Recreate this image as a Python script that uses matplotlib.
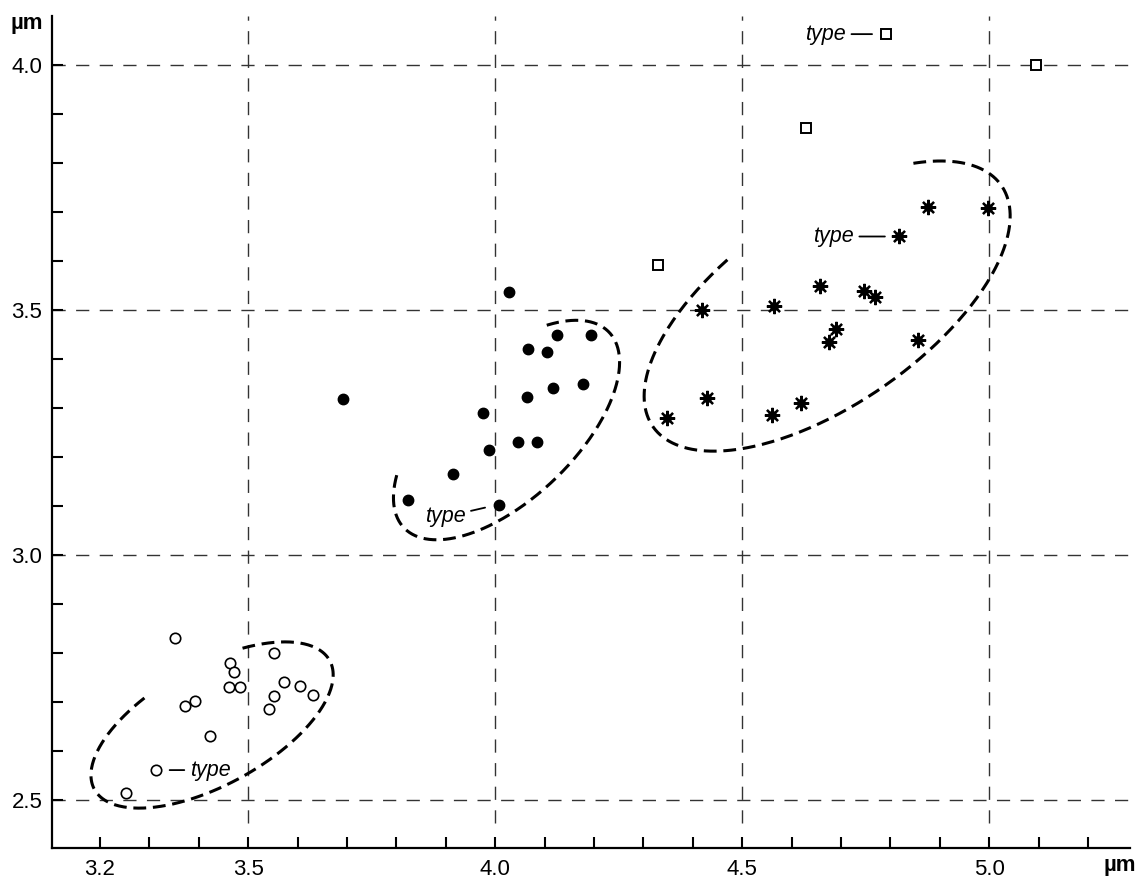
import numpy as np
import matplotlib
matplotlib.use("Agg")
import matplotlib.pyplot as plt

plt.rcParams['font.family'] = ['Liberation Sans', 'DejaVu Sans']

# open circles
open_x = [3.352, 3.464, 3.472, 3.462, 3.484, 3.372, 3.393, 3.423, 3.313, 3.253,
          3.553, 3.573, 3.604, 3.632, 3.553, 3.543]
open_y = [2.830, 2.779, 2.761, 2.730, 2.730, 2.692, 2.703, 2.631, 2.561, 2.514,
          2.799, 2.741, 2.733, 2.714, 2.712, 2.685]

# filled circles
fill_x = [4.028, 3.693, 3.976, 3.987, 3.914, 3.824, 4.007, 4.066, 4.105, 4.126,
          4.195, 4.117, 4.178, 4.065, 4.046, 4.085]
fill_y = [3.537, 3.318, 3.289, 3.214, 3.165, 3.112, 3.103, 3.420, 3.414, 3.449,
          3.449, 3.341, 3.349, 3.323, 3.231, 3.231]

# stars
star_x = [4.418, 4.565, 4.657, 4.747, 4.769, 4.690, 4.675, 4.855, 4.428, 4.347,
          4.560, 4.619, 4.876, 4.997, 4.817]
star_y = [3.499, 3.509, 3.548, 3.539, 3.526, 3.461, 3.435, 3.439, 3.320, 3.279,
          3.286, 3.310, 3.710, 3.708, 3.650]

# open squares
sq_x = [4.791, 5.095, 4.629, 4.329]
sq_y = [4.063, 4.000, 3.871, 3.592]

# type specimens: (point x, point y, text x, text y, ha)
type_pts = [
    (3.313, 2.561, 3.382, 2.561, 'left'),
    (4.007, 3.103, 3.940, 3.078, 'right'),
    (4.817, 3.650, 4.726, 3.650, 'right'),
    (4.791, 4.063, 4.710, 4.063, 'right'),
]

# hand-drawn envelopes: centre x, centre y, semi-axis a, semi-axis b, tilt, arc start, arc end (deg)
envelopes = [
    (3.427, 2.653, 0.272, 0.122, 29, 110, 422),
    (4.023, 3.255, 0.288, 0.140, 44, 141, 404),
    (4.672, 3.508, 0.430, 0.200, 35, 105, 405),
]

xticks = [3.2, 3.3, 3.4, 3.5, 3.6, 3.7, 3.8, 3.9, 4.0, 4.1, 4.2, 4.3, 4.4, 4.5,
          4.6, 4.7, 4.8, 4.9, 5.0, 5.1, 5.2]
xlabels = ['3.2', '', '', '3.5', '', '', '', '', '4.0', '', '', '', '', '4.5',
           '', '', '', '', '5.0', '', '']
yticks = [2.5, 2.6, 2.7, 2.8, 2.9, 3.0, 3.1, 3.2, 3.3, 3.4, 3.5, 3.6, 3.7, 3.8, 3.9, 4.0]
ylabels = ['2.5', '', '', '', '', '3.0', '', '', '', '', '3.5', '', '', '', '', '4.0']
xgrid = [3.5, 4.0, 4.5, 5.0]
ygrid = [2.5, 3.0, 3.5, 4.0]

fig = plt.figure(figsize=(11.39, 8.81), dpi=100)
ax = fig.add_axes([52/1139, 33/881, 1078/1139, 832/881])
ax.set_xlim(3.103, 5.285)
ax.set_ylim(2.402, 4.1)

for gx in xgrid:
    ax.axvline(gx, ymin=0.03, color='#333333', lw=1.0, dashes=(9.5, 7.5), zorder=1)
for gy in ygrid:
    ax.axhline(gy, color='#333333', lw=1.0, dashes=(9.5, 7.5), zorder=1)

for cx, cy, a, b, ang, t0, t1 in envelopes:
    t = np.deg2rad(np.linspace(t0, t1, 300))
    r = np.deg2rad(ang)
    u = a * np.cos(t)
    v = b * np.sin(t)
    ax.plot(cx + u*np.cos(r) - v*np.sin(r), cy + u*np.sin(r) + v*np.cos(r),
            color='black', lw=2.2, dashes=(4.2, 2.2), zorder=2)

ax.plot(open_x, open_y, 'o', ms=7.5, mfc='white', mec='black', mew=1.2, zorder=3)
ax.plot(fill_x, fill_y, 'o', ms=7.5, mfc='black', mec='black', zorder=3)
ax.plot(star_x, star_y, ls='none', marker=(8, 2, 0), ms=11, mec='black', mew=1.6, zorder=3)
ax.plot(star_x, star_y, ls='none', marker='o', ms=5.5, mfc='black', mec='black', zorder=3)
ax.plot(sq_x, sq_y, 's', ms=6.5, mfc='white', mec='black', mew=1.4, zorder=3)

for px, py, tx, ty, ha in type_pts:
    ax.annotate('type', xy=(px, py), xytext=(tx, ty), ha=ha, va='center',
                fontsize=15.5, style='italic',
                arrowprops=dict(arrowstyle='-', lw=1.3, color='black', shrinkA=2, shrinkB=10))

ax.spines['top'].set_visible(False)
ax.spines['right'].set_visible(False)
ax.spines['left'].set_linewidth(1.6)
ax.spines['bottom'].set_linewidth(1.6)

ax.set_xticks(xticks)
ax.set_xticklabels(xlabels)
ax.set_yticks(yticks)
ax.set_yticklabels(ylabels)
ax.tick_params(axis='both', direction='in', length=8, width=1.5, labelsize=16)
ax.tick_params(axis='x', pad=8)
ax.tick_params(axis='y', pad=7)

fig.text(27/1139, 1 - 24/881, 'µm', fontsize=16, fontweight='bold', ha='center', va='center')
fig.text(1120/1139, 1 - 866/881, 'µm', fontsize=16, fontweight='bold', ha='center', va='center')

fig.savefig('out.png', dpi=100)
